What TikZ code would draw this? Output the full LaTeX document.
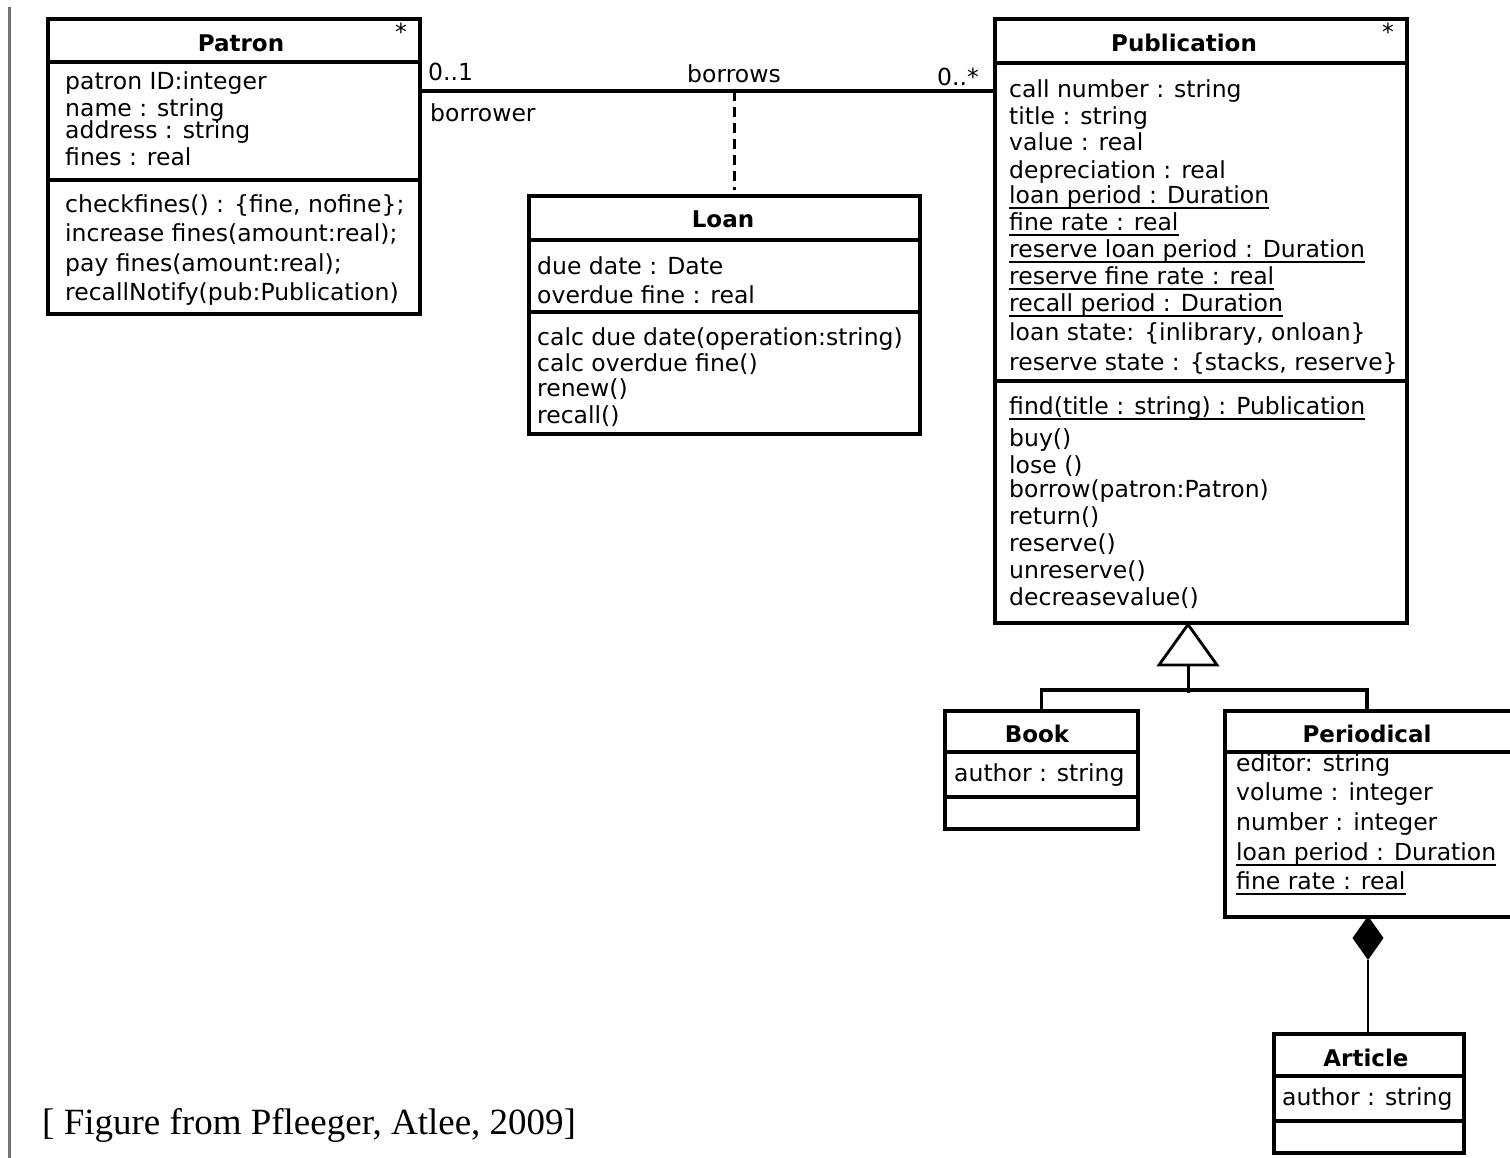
\documentclass[tikz,border=0pt]{standalone}
\usepackage{fontspec}
\setmainfont{DejaVu Sans}
\newfontfamily\capfont{Liberation Serif}
\usetikzlibrary{calc}
\begin{document}
\begin{tikzpicture}[x=1pt,y=-1pt,
  cls/.style={draw, line width=3.5pt, rectangle, inner sep=0pt, anchor=north west},
  div/.style={line width=3.5pt},
  txt/.style={anchor=base west, inner sep=0pt, font=\fontsize{23.5}{28}\selectfont},
  ttl/.style={anchor=base, inner sep=0pt, font=\fontsize{23}{28}\selectfont\bfseries},
  ul/.style={line width=2.2pt},
  conn/.style={line width=3.5pt},
]
\clip (0,0) rectangle (1510,1157);
\useasboundingbox (0,0) rectangle (1510,1157);
\fill[white] (0,0) rectangle (1510,1157);

% left grey rule
\draw[line width=3pt, color=black!55] (9,7) -- (9,1160);

% ---------- Patron ----------
\node[cls, minimum width=372pt, minimum height=295pt] (patron) at (46,17) {};
\draw[div] (patron.west |- 0,62) -- (patron.east |- 0,62);
\draw[div] (patron.west |- 0,180) -- (patron.east |- 0,180);
\node[ttl] (patronT) at (241,51) {Patron};
\node[txt] (patronS) at (395,40) {*};
\node[txt] (pa1) at (65,89) {patron ID:integer};
\node[txt] (pa2) at (65,116) {name : string};
\node[txt] (pa3) at (65,138) {address : string};
\node[txt] (pa4) at (65,165) {fines : real};
\node[txt] (pm1) at (65,212) {checkfines() : \{fine, nofine\};};
\node[txt] (pm2) at (65,241) {increase fines(amount:real);};
\node[txt] (pm3) at (65,271) {pay fines(amount:real);};
\node[txt] (pm4) at (65,300) {recallNotify(pub:Publication)};

% ---------- Publication ----------
\node[cls, minimum width=412pt, minimum height=604pt] (pub) at (993,17) {};
\draw[div] (pub.west |- 0,63) -- (pub.east |- 0,63);
\draw[div] (pub.west |- 0,381) -- (pub.east |- 0,381);
\node[ttl] (pubT) at (1184,51) {Publication};
\node[txt] (pubS) at (1382,40) {*};
\node[txt] (ua1) at (1009,97) {call number : string};
\node[txt] (ua2) at (1009,124) {title : string};
\node[txt] (ua3) at (1009,150) {value : real};
\node[txt] (ua4) at (1009,178) {depreciation : real};
\node[txt] (ua5) at (1009,203) {loan period : Duration};
\node[txt] (ua6) at (1009,230) {fine rate : real};
\node[txt] (ua7) at (1009,257) {reserve loan period : Duration};
\node[txt] (ua8) at (1009,284) {reserve fine rate : real};
\node[txt] (ua9) at (1009,311) {recall period : Duration};
\node[txt] (ua10) at (1009,340) {loan state: \{inlibrary, onloan\}};
\node[txt] (ua11) at (1009,370) {reserve state : \{stacks, reserve\}};
\foreach \n in {ua5,ua6,ua7,ua8,ua9}
  \draw[ul] ([yshift=-5pt]\n.base west) -- ([yshift=-5pt]\n.base east);
\node[txt] (um1) at (1009,414) {find(title : string) : Publication};
\draw[ul] ([yshift=-5pt]um1.base west) -- ([yshift=-5pt]um1.base east);
\node[txt] (um2) at (1009,446) {buy()};
\node[txt] (um3) at (1009,473) {lose ()};
\node[txt] (um4) at (1009,497) {borrow(patron:Patron)};
\node[txt] (um5) at (1009,524) {return()};
\node[txt] (um6) at (1009,551) {reserve()};
\node[txt] (um7) at (1009,578) {unreserve()};
\node[txt] (um8) at (1009,605) {decreasevalue()};

% ---------- Loan ----------
\node[cls, minimum width=391pt, minimum height=238pt] (loan) at (527,194) {};
\draw[div] (loan.west |- 0,240) -- (loan.east |- 0,240);
\draw[div] (loan.west |- 0,312) -- (loan.east |- 0,312);
\node[ttl] (loanT) at (723,227) {Loan};
\node[txt] (la1) at (537,274) {due date : Date};
\node[txt] (la2) at (537,303) {overdue fine : real};
\node[txt] (lm1) at (537,345) {calc due date(operation:string)};
\node[txt] (lm2) at (537,371) {calc overdue fine()};
\node[txt] (lm3) at (537,396) {renew()};
\node[txt] (lm4) at (537,423) {recall()};

% ---------- association ----------
\coordinate (amid) at (734,91);
\draw[conn] (patron.east |- amid) -- (pub.west |- amid);
\draw[line width=3pt, dash pattern=on 10pt off 6pt] (amid) -- (amid |- 0,190);
\node[txt] (m1) at (428,80) {0..1};
\node[txt] (rb) at (430,121) {borrower};
\node[anchor=base, inner sep=0pt, font=\fontsize{23.5}{28}\selectfont] (asn) at (734,82) {borrows};
\node[txt] (m2) at (937,85) {0..*};

% ---------- Book ----------
\node[cls, minimum width=193pt, minimum height=118pt] (book) at (943,709) {};
\draw[div] (book.west |- 0,752) -- (book.east |- 0,752);
\draw[div] (book.west |- 0,797) -- (book.east |- 0,797);
\node[ttl] (bookT) at (1037,742) {Book};
\node[txt] (ba1) at (954,781) {author : string};

% ---------- Periodical ----------
\node[cls, minimum width=292pt, minimum height=206pt] (per) at (1223,709) {};
\draw[div] (per.west |- 0,752) -- (per.east |- 0,752);
\node[ttl] (perT) at (1367,742) {Periodical};
\node[txt] (pe1) at (1236,771) {editor: string};
\node[txt] (pe2) at (1236,800) {volume : integer};
\node[txt] (pe3) at (1236,830) {number : integer};
\node[txt] (pe4) at (1236,860) {loan period : Duration};
\node[txt] (pe5) at (1236,889) {fine rate : real};
\foreach \n in {pe4,pe5}
  \draw[ul] ([yshift=-5pt]\n.base west) -- ([yshift=-5pt]\n.base east);

% ---------- Article ----------
\node[cls, minimum width=190pt, minimum height=119pt] (art) at (1272,1032) {};
\draw[div] (art.west |- 0,1076) -- (art.east |- 0,1076);
\draw[div] (art.west |- 0,1121) -- (art.east |- 0,1121);
\node[ttl] (artT) at (1366,1066) {Article};
\node[txt] (aa1) at (1282,1105) {author : string};

% ---------- generalization ----------
\coordinate (gj) at (1188,690);
\coordinate (tb) at (1188,665);
\draw[conn] (book.north) |- (gj);
\draw[conn] (per.north -| 1367,0) |- (gj);
\draw[line width=3pt] (gj) -- ++(0,3) (gj) -- (tb);
\draw[line width=2.8pt, fill=white, line join=miter] (pub.south -| gj) -- ($(tb)+(29,0)$) -- ($(tb)+(-29,0)$) -- cycle;

% ---------- composition ----------
\coordinate (dtop) at (1368,916);
\fill[black] (dtop) -- ++(15.5,22) -- ++(-15.5,22) -- ++(-15.5,-22) -- cycle;
\draw[line width=2.2pt] ($(dtop)+(0,44)$) -- (art.north -| dtop);

% ---------- caption ----------
\node[anchor=base west, inner sep=0pt, font=\capfont\fontsize{37}{40}\selectfont] (cap) at (42,1134) {[ Figure from Pfleeger, Atlee, 2009]};
\end{tikzpicture}
\end{document}
